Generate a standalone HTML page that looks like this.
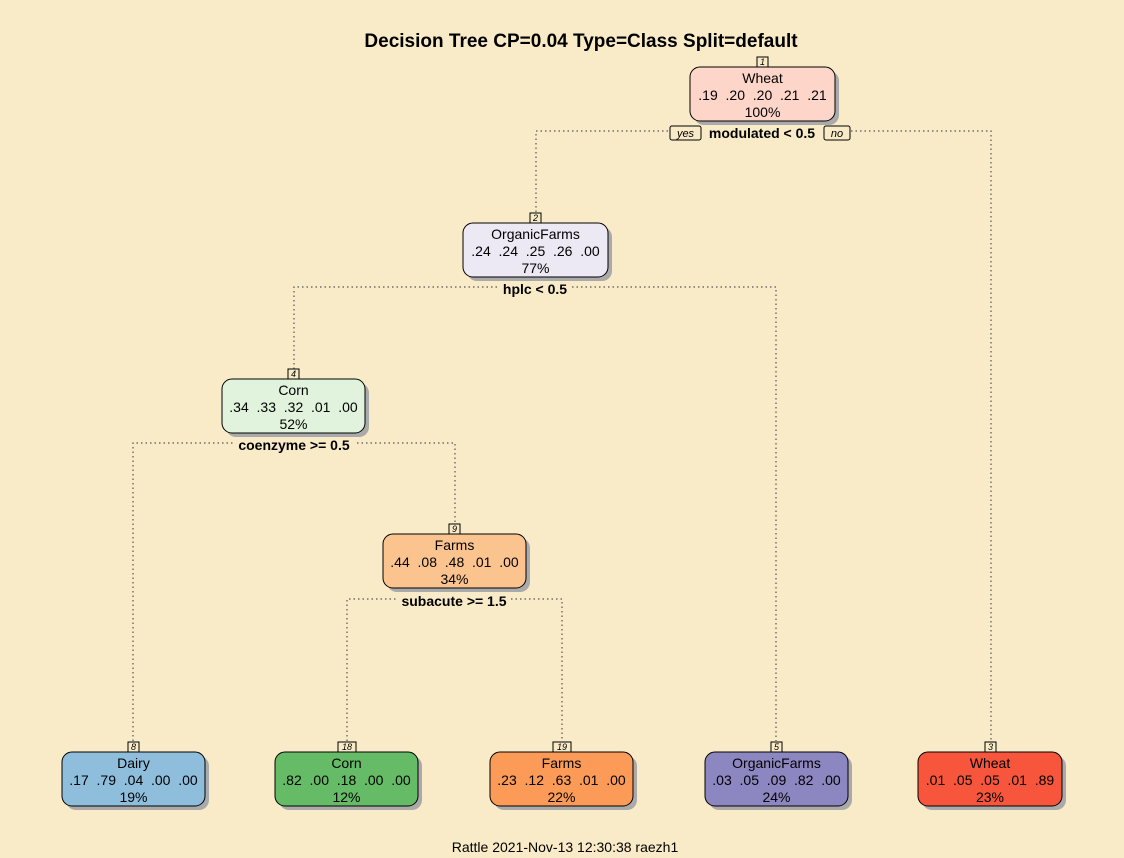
<!DOCTYPE html>
<html><head><style>
html,body{margin:0;padding:0;background:#F9EBC7;}
svg{display:block;font-family:"Liberation Sans",sans-serif;}
svg text{white-space:pre;}
</style></head><body>
<svg width="1124" height="858" viewBox="0 0 1124 858" xmlns="http://www.w3.org/2000/svg" xml:space="preserve">
<rect width="1124" height="858" fill="#F9EBC7"/>
<text x="581" y="47" font-size="19" font-weight="bold" text-anchor="middle">Decision Tree CP=0.04 Type=Class Split=default</text>
<g stroke="#555" stroke-width="1.2" stroke-dasharray="1.5,3" fill="none">
<path d="M536 212 V131 H991 V741"/>
<path d="M294 369 V287 H776 V741"/>
<path d="M133 741 V443 H455 V524"/>
<path d="M347 741 V599 H562 V741"/>
</g>
<g font-size="14" text-anchor="middle">
<rect x="700" y="125" width="122" height="15" fill="#F9EBC7"/>
<text x="762" y="138" font-weight="bold">modulated &lt; 0.5</text>
<rect x="670" y="126" width="31" height="14" rx="2" fill="#F9EBC7" stroke="#000"/>
<text x="685.5" y="137" font-size="11" font-style="italic">yes</text>
<rect x="824" y="126" width="26" height="14" rx="2" fill="#F9EBC7" stroke="#000"/>
<text x="837" y="137" font-size="11" font-style="italic">no</text>
<rect x="498" y="281" width="74" height="15" fill="#F9EBC7"/>
<text x="535" y="294" font-weight="bold">hplc &lt; 0.5</text>
<rect x="234" y="437" width="120" height="15" fill="#F9EBC7"/>
<text x="294" y="450" font-weight="bold">coenzyme &gt;= 0.5</text>
<rect x="397" y="593" width="114" height="15" fill="#F9EBC7"/>
<text x="454" y="606" font-weight="bold">subacute &gt;= 1.5</text>
</g>
<g font-size="14" text-anchor="middle">
<g>
<rect x="694" y="71" width="145" height="54" rx="10" fill="#AAA"/>
<rect x="690" y="67" width="145" height="54" rx="10" fill="#FDD6C9" stroke="#000"/>
<rect x="757" y="57" width="11" height="10" fill="#F9EBC7" stroke="#000"/><text x="762.5" y="65" font-size="9" font-style="italic">1</text>
<text x="762.5" y="83">Wheat</text><text x="762.5" y="100">.19  .20  .20  .21  .21</text><text x="762.5" y="117">100%</text>
</g>
<g>
<rect x="467" y="227" width="145" height="54" rx="10" fill="#AAA"/>
<rect x="463" y="223" width="145" height="54" rx="10" fill="#ECE8F4" stroke="#000"/>
<rect x="530" y="213" width="11" height="10" fill="#F9EBC7" stroke="#000"/><text x="535.5" y="221" font-size="9" font-style="italic">2</text>
<text x="535.5" y="239">OrganicFarms</text><text x="535.5" y="256">.24  .24  .25  .26  .00</text><text x="535.5" y="273">77%</text>
</g>
<g>
<rect x="226" y="383" width="143" height="54" rx="10" fill="#AAA"/>
<rect x="222" y="379" width="143" height="54" rx="10" fill="#E1F3DC" stroke="#000"/>
<rect x="288" y="369" width="11" height="10" fill="#F9EBC7" stroke="#000"/><text x="293.5" y="377" font-size="9" font-style="italic">4</text>
<text x="293.5" y="395">Corn</text><text x="293.5" y="412">.34  .33  .32  .01  .00</text><text x="293.5" y="429">52%</text>
</g>
<g>
<rect x="387" y="538" width="143" height="54" rx="10" fill="#AAA"/>
<rect x="383" y="534" width="143" height="54" rx="10" fill="#FBC48F" stroke="#000"/>
<rect x="449" y="524" width="11" height="10" fill="#F9EBC7" stroke="#000"/><text x="454.5" y="532" font-size="9" font-style="italic">9</text>
<text x="454.5" y="550">Farms</text><text x="454.5" y="567">.44  .08  .48  .01  .00</text><text x="454.5" y="584">34%</text>
</g>
<g>
<rect x="66" y="756" width="143" height="54" rx="10" fill="#AAA"/>
<rect x="62" y="752" width="143" height="54" rx="10" fill="#8FBEDC" stroke="#000"/>
<rect x="128" y="742" width="11" height="10" fill="#F9EBC7" stroke="#000"/><text x="133.5" y="750" font-size="9" font-style="italic">8</text>
<text x="133.5" y="768">Dairy</text><text x="133.5" y="785">.17  .79  .04  .00  .00</text><text x="133.5" y="802">19%</text>
</g>
<g>
<rect x="279" y="756" width="143" height="54" rx="10" fill="#AAA"/>
<rect x="275" y="752" width="143" height="54" rx="10" fill="#66BB66" stroke="#000"/>
<rect x="338" y="742" width="18" height="10" fill="#F9EBC7" stroke="#000"/><text x="347" y="750" font-size="9" font-style="italic">18</text>
<text x="346.5" y="768">Corn</text><text x="346.5" y="785">.82  .00  .18  .00  .00</text><text x="346.5" y="802">12%</text>
</g>
<g>
<rect x="494" y="756" width="143" height="54" rx="10" fill="#AAA"/>
<rect x="490" y="752" width="143" height="54" rx="10" fill="#FB9B57" stroke="#000"/>
<rect x="553" y="742" width="18" height="10" fill="#F9EBC7" stroke="#000"/><text x="562" y="750" font-size="9" font-style="italic">19</text>
<text x="561.5" y="768">Farms</text><text x="561.5" y="785">.23  .12  .63  .01  .00</text><text x="561.5" y="802">22%</text>
</g>
<g>
<rect x="709" y="756" width="143" height="54" rx="10" fill="#AAA"/>
<rect x="705" y="752" width="143" height="54" rx="10" fill="#8C87C0" stroke="#000"/>
<rect x="771" y="742" width="11" height="10" fill="#F9EBC7" stroke="#000"/><text x="776.5" y="750" font-size="9" font-style="italic">5</text>
<text x="776.5" y="768">OrganicFarms</text><text x="776.5" y="785">.03  .05  .09  .82  .00</text><text x="776.5" y="802">24%</text>
</g>
<g>
<rect x="922" y="756" width="144" height="54" rx="10" fill="#AAA"/>
<rect x="918" y="752" width="144" height="54" rx="10" fill="#F7553C" stroke="#000"/>
<rect x="985" y="742" width="11" height="10" fill="#F9EBC7" stroke="#000"/><text x="990.5" y="750" font-size="9" font-style="italic">3</text>
<text x="990" y="768">Wheat</text><text x="990" y="785">.01  .05  .05  .01  .89</text><text x="990" y="802">23%</text>
</g>
</g>
<text x="565" y="852" font-size="14" text-anchor="middle">Rattle 2021-Nov-13 12:30:38 raezh1</text>
</svg>
</body></html>
